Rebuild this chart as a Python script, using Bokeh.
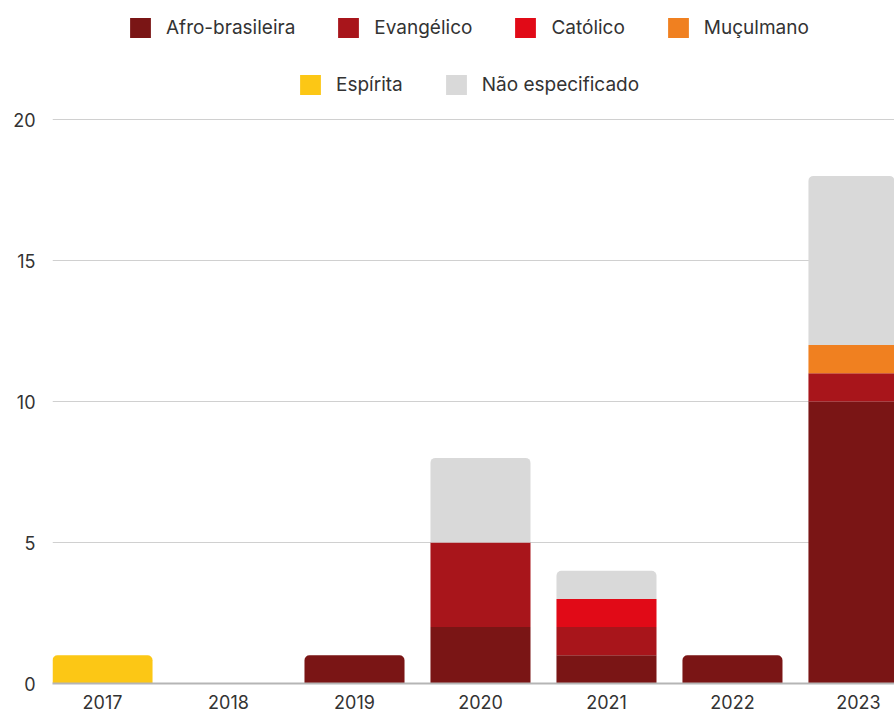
from bokeh.plotting import figure
from bokeh.models import ColumnDataSource, Range1d, FixedTicker, Legend, LegendItem
from bokeh.embed import file_html
from bokeh.resources import INLINE

years = ["2017", "2018", "2019", "2020", "2021", "2022", "2023"]
series_names = ["Afro-brasileira", "Evangélico", "Católico", "Muçulmano", "Espírita", "Não especificado"]
afro = [0, 0, 1, 2, 1, 1, 10]
evangelico = [0, 0, 0, 3, 1, 0, 1]
catolico = [0, 0, 0, 0, 1, 0, 0]
muculmano = [0, 0, 0, 0, 0, 0, 1]
espirita = [1, 0, 0, 0, 0, 0, 0]
nao_especificado = [0, 0, 0, 3, 1, 0, 6]
y_ticks = [0, 5, 10, 15, 20]
colors = ["#7a1515", "#a8151b", "#e10a17", "#f08020", "#fcc715", "#d9d9d9"]

series = [afro, evangelico, catolico, muculmano, espirita, nao_especificado]
totals = [sum(s[i] for s in series) for i in range(len(years))]

FONT = "Inter"
TXT = "#333333"

p = figure(width=894, height=711, output_backend="svg", toolbar_location=None,
           x_range=Range1d(-0.397, 6.286), y_range=Range1d(0, 24.22),
           min_border_left=52, min_border_right=0, min_border_bottom=28, min_border_top=0)
p.outline_line_color = None
p.background_fill_color = "white"

renderers = []
cum = [0] * len(years)
for name, vals, col in zip(series_names, series, colors):
    top_d = {"x": [], "b": [], "t": []}
    mid_d = {"x": [], "b": [], "t": []}
    for i, v in enumerate(vals):
        if v <= 0:
            continue
        b = cum[i]
        t = b + v
        d = top_d if t == totals[i] else mid_d
        d["x"].append(i)
        d["b"].append(b)
        d["t"].append(t)
        cum[i] = t
    r_top = p.vbar(x="x", bottom="b", top="t", width=0.794, source=ColumnDataSource(top_d),
                   fill_color=col, line_color=None, border_radius=(5, 5, 0, 0))
    r_mid = p.vbar(x="x", bottom="b", top="t", width=0.794, source=ColumnDataSource(mid_d),
                   fill_color=col, line_color=None)
    renderers.append((name, r_mid if len(mid_d["x"]) else r_top))

# axes
p.xaxis.ticker = FixedTicker(ticks=list(range(len(years))))
p.xaxis.major_label_overrides = {i: y for i, y in enumerate(years)}
p.xaxis.major_tick_line_color = None
p.xaxis.major_tick_out = 0
p.xaxis.major_tick_in = 0
p.xaxis.minor_tick_line_color = None
p.xaxis.axis_line_color = "#b5b5b5"
p.xaxis.axis_line_width = 2
p.xaxis.major_label_standoff = 11
p.xaxis.major_label_text_font = FONT
p.xaxis.major_label_text_font_size = "18px"
p.xaxis.major_label_text_color = TXT

p.yaxis.ticker = FixedTicker(ticks=y_ticks)
p.yaxis.axis_line_color = None
p.yaxis.major_tick_line_color = None
p.yaxis.major_tick_out = 0
p.yaxis.major_tick_in = 0
p.yaxis.minor_tick_line_color = None
p.yaxis.major_label_standoff = 17
p.yaxis.major_label_text_font = FONT
p.yaxis.major_label_text_font_size = "18px"
p.yaxis.major_label_text_color = TXT

p.xgrid.grid_line_color = None
p.ygrid.grid_line_color = "#d0d0d0"
p.ygrid.grid_line_width = 1

def make_legend(items, loc):
    leg = Legend(items=[LegendItem(label=n, renderers=[r]) for n, r in items],
                 orientation="horizontal", location=loc,
                 glyph_width=26, glyph_height=25, label_standoff=13, spacing=40,
                 label_text_font=FONT, label_text_font_size="19px", label_text_color=TXT,
                 border_line_alpha=0, background_fill_alpha=0, padding=0, margin=0)
    return leg

leg1 = make_legend(renderers[:4], (75, 643))
leg2 = make_legend(renderers[4:], (245, 586))
p.add_layout(leg1)
p.add_layout(leg2)

open("out.html", "w").write(file_html(p, INLINE))
